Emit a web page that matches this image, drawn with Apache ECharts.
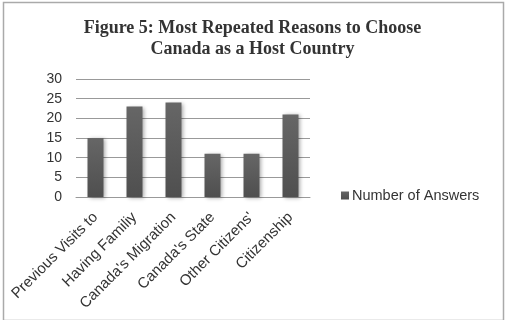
<!DOCTYPE html>
<html>
<head>
<meta charset="utf-8">
<script src="https://cdn.jsdelivr.net/npm/echarts@6/dist/echarts.min.js"></script>
<style>
  html, body { margin: 0; padding: 0; background: #fff; }
  #chart { width: 505px; height: 320px; }
</style>
</head>
<body>
<div id="chart"></div>
<script>
const categories = ["Previous Visits to", "Having Familiy", "Canada's Migration", "Canada's State", "Other Citizens'", "Citizenship"];
const answers = [15, 23, 24, 11, 11, 21];
const seriesName = 'Number of Answers';

const chart = echarts.init(document.getElementById('chart'));
const option = {
    backgroundColor: '#fff',
    animation: false,
    title: {
        text: 'Figure 5: Most Repeated Reasons to Choose\nCanada as a Host Country',
        left: 'center',
        top: 13,
        textStyle: {
            fontFamily: 'Liberation Serif',
            fontWeight: 'bold',
            fontSize: 18,
            lineHeight: 21,
            color: '#333'
        }
    },
    legend: {
        data: [seriesName],
        left: 336,
        top: 183,
        itemWidth: 8,
        itemHeight: 8,
        itemGap: 3,
        icon: 'rect',
        textStyle: { fontFamily: 'Liberation Sans', fontSize: 14.5, color: '#333', padding: [0, 0, 0, -2] }
    },
    grid: { left: 76, right: 195, top: 79, bottom: 123 },
    xAxis: {
        type: 'category',
        data: categories,
        axisLine: { lineStyle: { color: '#999' } },
        axisTick: { show: false },
        axisLabel: {
            rotate: 45,
            interval: 0,
            margin: 18,
            fontFamily: 'Liberation Sans',
            fontSize: 15,
            color: '#333'
        }
    },
    yAxis: {
        type: 'value',
        min: 0,
        max: 30,
        interval: 5,
        axisLine: { show: false },
        axisTick: { show: false },
        splitLine: { lineStyle: { color: '#999' } },
        axisLabel: { fontFamily: 'Liberation Sans', fontSize: 14, color: '#333', margin: 14 }
    },
    series: [{
        name: seriesName,
        type: 'bar',
        data: answers,
        barWidth: '41%',
        itemStyle: {
            color: new echarts.graphic.LinearGradient(0, 0, 0, 1, [
                { offset: 0, color: '#666' },
                { offset: 1, color: '#4f4f4f' }
            ]),
            shadowColor: 'rgba(0,0,0,0.35)',
            shadowBlur: 4,
            shadowOffsetX: 2,
            shadowOffsetY: 1
        }
    }],
    graphic: [{
        type: 'rect',
        left: 1,
        top: 0,
        shape: { width: 500, height: 318 },
        style: { fill: 'none', stroke: '#aaa', lineWidth: 1.5 },
        silent: true
    }]
};
chart.setOption(option);
</script>
</body>
</html>
